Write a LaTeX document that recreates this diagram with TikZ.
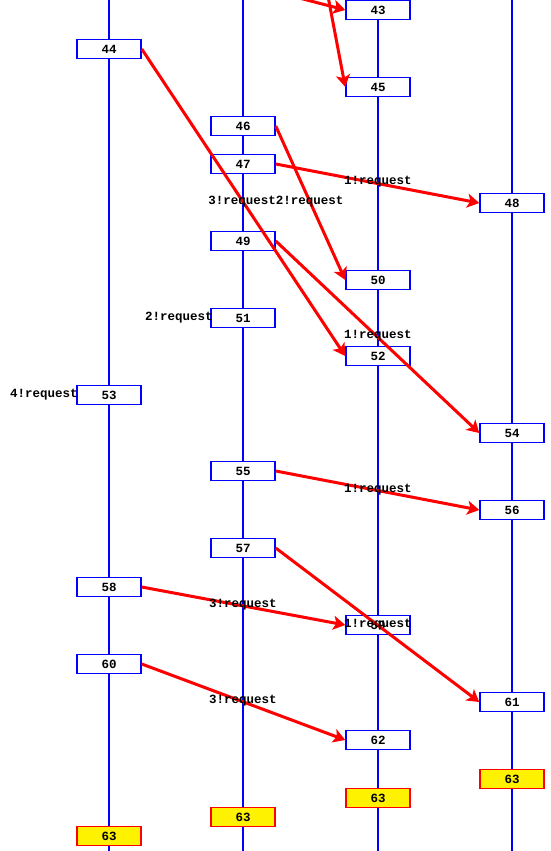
\documentclass[tikz,border=0pt]{standalone}
\usepackage{fontspec}
\setmonofont{Liberation Mono}
\usetikzlibrary{arrows.meta}
\begin{document}
\begin{tikzpicture}[
            x=1pt, y=-1pt,
            lane/.style={draw=blue, line width=1.5pt},
            msg/.style={draw=blue, fill=white, line width=1.5pt, minimum width=64pt, minimum height=19pt, inner sep=0pt, font=\ttfamily\bfseries\fontsize{12.5}{12.5}\selectfont},
            final/.style={msg, draw=red, fill=yellow},
            req/.style={draw=red, line width=3pt, -{Stealth[length=12pt, width=14pt, inset=3pt]}},
            lbl/.style={inner sep=0pt, font=\ttfamily\bfseries\fontsize{12.5}{12.5}\selectfont}
        ]
            \clip (0, 0) rectangle (551, 851);
            \fill[white] (0, 0) rectangle (551, 851);
            \foreach \x in {109, 243, 378, 512}
                \draw[lane] (\x, 0) -- (\x, 851);

            % boxes
            \node[msg] (m43) at (378, 10) {43};
            \node[msg] (m44) at (109, 49) {44};
            \node[msg] (m45) at (378, 87) {45};
            \node[msg] (m46) at (243, 126) {46};
            \node[msg] (m47) at (243, 164) {47};
            \node[msg] (m48) at (512, 203) {48};
            \node[msg] (m49) at (243, 241) {49};
            \node[msg] (m50) at (378, 280) {50};
            \node[msg] (m51) at (243, 318) {51};
            \node[msg] (m52) at (378, 356) {52};
            \node[msg] (m53) at (109, 395) {53};
            \node[msg] (m54) at (512, 433) {54};
            \node[msg] (m55) at (243, 471) {55};
            \node[msg] (m56) at (512, 510) {56};
            \node[msg] (m57) at (243, 548) {57};
            \node[msg] (m58) at (109, 587) {58};
            \node[msg] (m59) at (378, 625) {59};
            \node[msg] (m60) at (109, 664) {60};
            \node[msg] (m61) at (512, 702) {61};
            \node[msg] (m62) at (378, 740) {62};
            \node[final] (e4) at (512, 779) {63};
            \node[final] (e3) at (378, 798) {63};
            \node[final] (e2) at (243, 817) {63};
            \node[final] (e1) at (109, 836) {63};

            % messages coming from above
            \coordinate (in1) at (230, -20);
            \coordinate (in2) at (323, -30);
            \draw[req] (in1) -- (m43.west);
            \draw[req] (in2) -- (m45.west);

            \draw[req] (m44.east) -- (m52.west);
            \draw[req] (m46.east) -- (m50.west);
            \draw[req] (m47.east) -- (m48.west);
            \draw[req] (m49.east) -- (m54.west);
            \draw[req] (m55.east) -- (m56.west);
            \draw[req] (m57.east) -- (m61.west);
            \draw[req] (m58.east) -- (m59.west);
            \draw[req] (m60.east) -- (m62.west);

            % labels
            \node[lbl] (l48) at (378, 182) {1!request};
            \node[lbl] (l50) at (276, 202) {3!request2!request};
            \node[lbl] (l51) at (179, 318) {2!request};
            \node[lbl] (l52) at (378, 336) {1!request};
            \node[lbl] (l53) at (44, 395) {4!request};
            \node[lbl] (l56) at (378, 490) {1!request};
            \node[lbl] (l58) at (243, 605) {3!request};
            \node[lbl] (l59) at (378, 625) {1!request};
            \node[lbl] (l60) at (243, 701) {3!request};
        \end{tikzpicture}
\end{document}
